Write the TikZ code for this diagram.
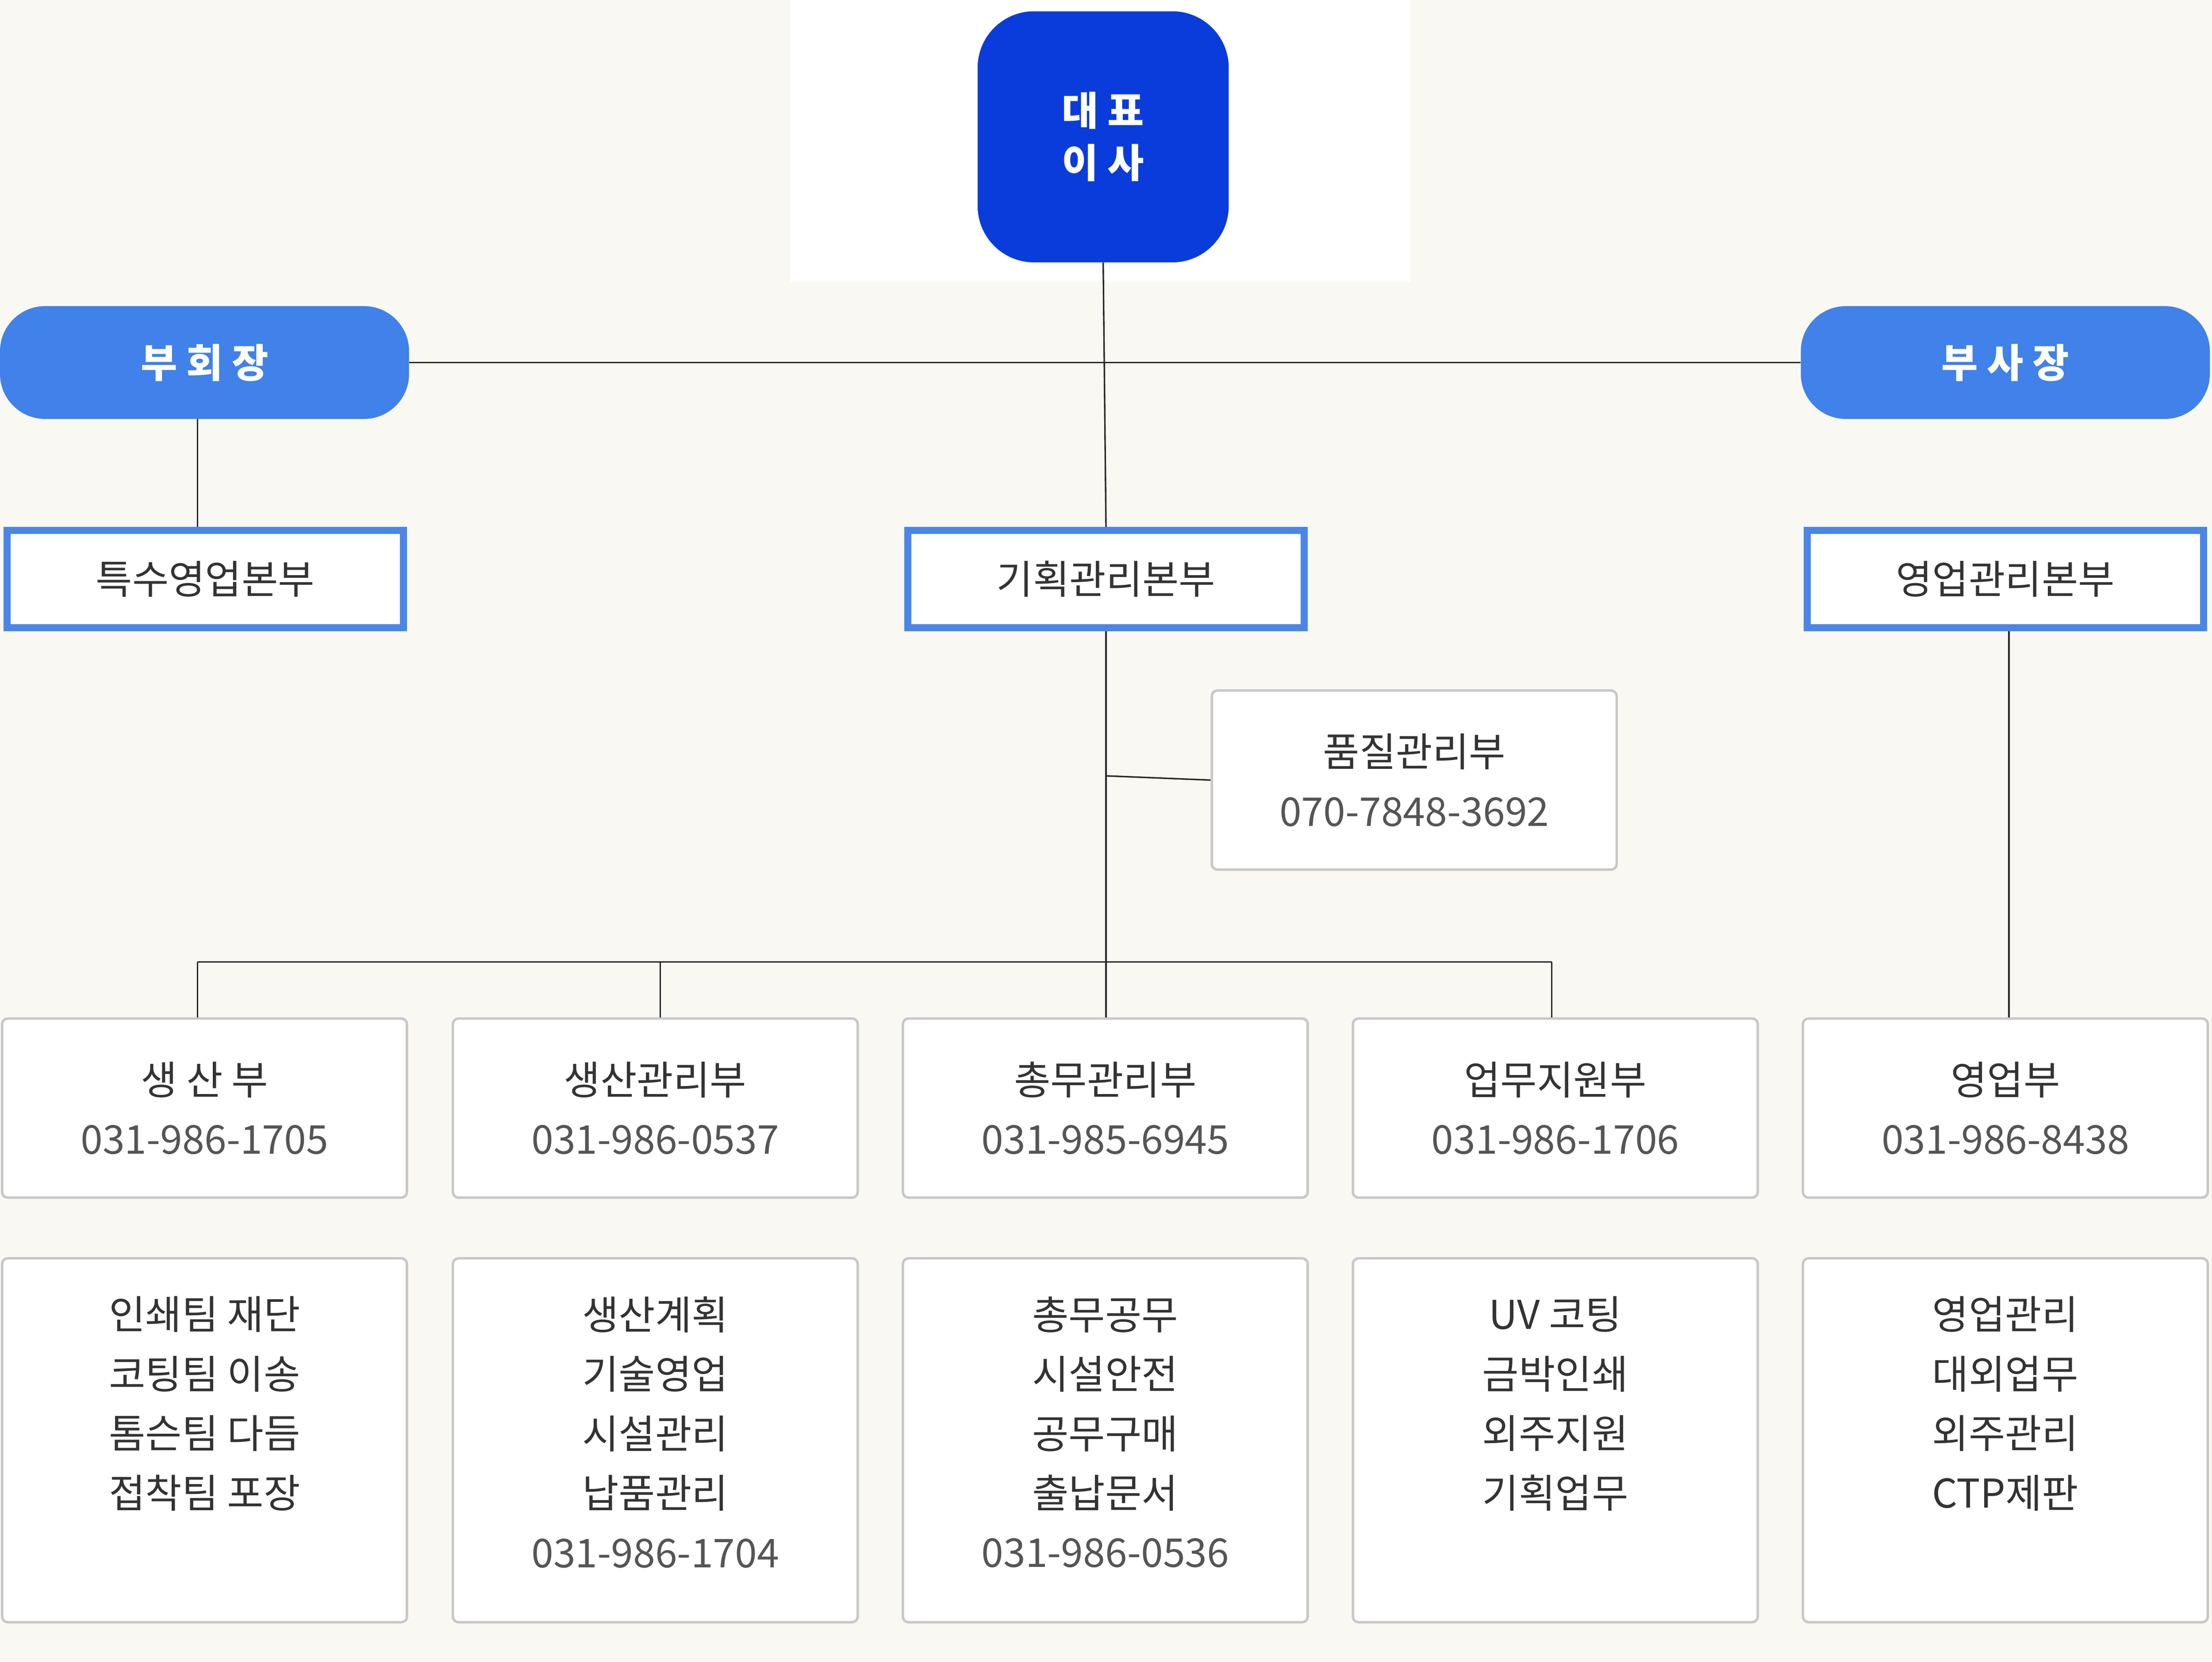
\documentclass[tikz,border=0pt]{standalone}
\usepackage{fontspec}
\setmainfont{Noto Sans CJK KR}
\definecolor{bg}{HTML}{FAF8F3}
\definecolor{deep}{HTML}{0A3CDC}
\definecolor{mid}{HTML}{4081EA}
\definecolor{edge}{HTML}{4A86E8}
\definecolor{gbox}{HTML}{C8C8C8}
\definecolor{txt}{HTML}{333333}
\definecolor{num}{HTML}{555555}
\begin{document}
\begin{tikzpicture}[x=0.1cm,y=-0.1cm,
  conn/.style={line width=3pt,draw=black!85},
  boss/.style={draw=none,fill=deep,rounded corners=4cm,minimum width=17.8cm,minimum height=17.8cm,text=white,font=\fontsize{80}{105}\selectfont\bfseries,align=center},
  vice/.style={draw=none,fill=mid,rounded corners=3.2cm,minimum width=29cm,minimum height=8cm,text=white,font=\fontsize{80}{100}\selectfont\bfseries},
  head/.style={draw=edge,line width=14pt,fill=white,minimum width=28.1cm,minimum height=6.9cm,text=txt,font=\fontsize{80}{100}\selectfont},
  box/.style={draw=gbox,line width=5pt,fill=white,rounded corners=0.4cm,minimum width=28.7cm,minimum height=12.7cm,text=txt,font=\fontsize{80}{120}\selectfont,align=center},
  tall/.style={box,minimum height=25.8cm},
  list/.style={anchor=north,inner sep=0pt,text=txt,font=\fontsize{80}{120}\selectfont,align=center}]
\useasboundingbox (0,0) rectangle (1568,1178);
\fill[bg] (0,0) rectangle (1568,1178);
\fill[white] (560,0) rectangle (1000,200);
% connectors first
\coordinate (hL) at (290,252); \coordinate (hR) at (1277,252);
\coordinate (j1) at (784,550);
\coordinate (b1) at (140,682); \coordinate (b2) at (468,682); \coordinate (b4) at (1100,682); \coordinate (bc) at (784,682);
% nodes
\node[boss] (ceo) at (782,97) {대 표\\이 사};
\node[vice] (vc) at (145,257) {부 회 장};
\node[vice] (vp) at (1421.5,257) {부 사 장};
\node[head] (h1) at (145.5,410.5) {특수영업본부};
\node[head] (h2) at (784,410.5) {기획관리본부};
\node[head] (h3) at (1421.5,410.5) {영업관리본부};
\node[box] (qc) at (1002.5,553) {품질관리부\\\color{num}070-7848-3692};
\node[box] (r1) at (145,785.5) {생 산 부\\\color{num}031-986-1705};
\node[box] (r2) at (464.5,785.5) {생산관리부\\\color{num}031-986-0537};
\node[box] (r3) at (783.5,785.5) {총무관리부\\\color{num}031-985-6945};
\node[box] (r4) at (1102.5,785.5) {업무지원부\\\color{num}031-986-1706};
\node[box] (r5) at (1421.5,785.5) {영업부\\\color{num}031-986-8438};
\node[tall] (t1) at (145,1021) {};
\node[tall] (t2) at (464.5,1021) {};
\node[tall] (t3) at (783.5,1021) {};
\node[tall] (t4) at (1102.5,1021) {};
\node[tall] (t5) at (1421.5,1021) {};
\node[list] (l1) at (145,919) {인쇄팀 재단\\코팅팀 이송\\톰슨팀 다듬\\접착팀 포장};
\node[list] (l2) at (464.5,919) {생산계획\\기술영업\\시설관리\\납품관리\\\color{num}031-986-1704};
\node[list] (l3) at (783.5,919) {총무공무\\시설안전\\공무구매\\출납문서\\\color{num}031-986-0536};
\node[list] (l4) at (1102.5,919) {UV 코팅\\금박인쇄\\외주지원\\기획업무};
\node[list] (l5) at (1421.5,919) {영업관리\\대외업무\\외주관리\\CTP제판};
\begin{scope}[on background layer/.try]
\end{scope}
\draw[conn] (ceo.south) -- (h2.north);
\draw[conn] (vc.east) -- (vp.west);
\draw[conn] (vc.south -| 140,0) -- (h1.north -| 140,0);
\draw[conn] (h2.south) -- (r3.north -| h2.south);
\draw[conn] (j1) -- (qc.west);
\draw[conn] (b1) -- (b4);
\draw[conn] (b1) -- (r1.north -| b1);
\draw[conn] (b2) -- (r2.north -| b2);
\draw[conn] (b4) -- (r4.north -| b4);
\draw[conn] (h3.south -| 1424,0) -- (r5.north -| 1424,0);
\end{tikzpicture}
\end{document}
